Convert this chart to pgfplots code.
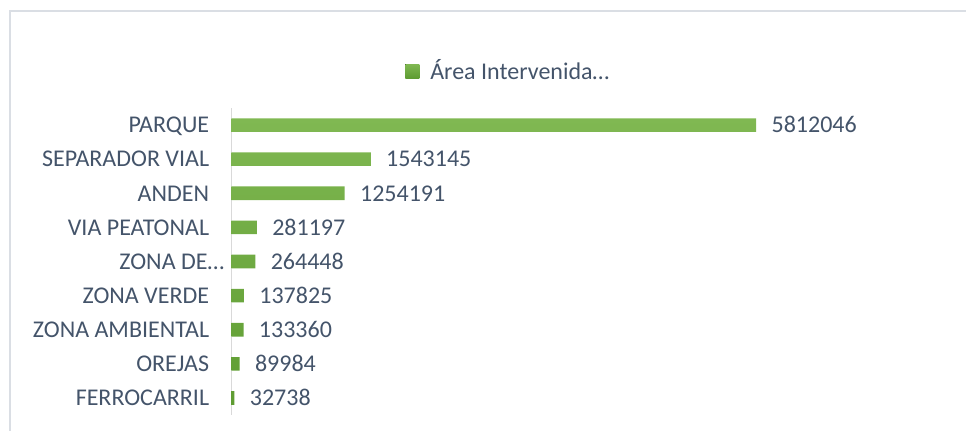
\documentclass[border=0pt]{standalone}
\usepackage{fontspec}
\setmainfont{Carlito}
\usepackage{pgfplots}
\pgfplotsset{compat=1.18}
\definecolor{txt}{RGB}{68,84,106}
\definecolor{bartop}{RGB}{128,184,82}
\definecolor{barbot}{RGB}{94,156,50}
\definecolor{framecol}{RGB}{218,222,228}
\definecolor{axcol}{RGB}{217,217,217}

\begin{document}
\begin{tikzpicture}
\useasboundingbox (0,0) rectangle (483pt,215pt);
\clip (0,0) rectangle (483pt,215pt);
\draw[framecol, line width=0.7pt] (5pt,-10pt) -- (5pt,209.5pt) -- (500pt,209.5pt);
\begin{axis}[
  at={(115.75pt,7.5pt)}, anchor=south west,
  scale only axis, width=316pt, height=153.5pt,
  xbar, bar width=6.8pt,
  xmin=0, xmax=7000000,
  ymin=-0.5, ymax=8.5, y dir=reverse,
  axis x line=none,
  axis y line*=left,
  y axis line style={-, draw=axcol, line width=0.6pt},
  major tick length=0pt,
  ytick={0,...,8},
  yticklabels={PARQUE, SEPARADOR VIAL, ANDEN, VIA PEATONAL,
    ZONA DE…\hspace*{-7.5pt}, ZONA VERDE, ZONA AMBIENTAL, OREJAS, FERROCARRIL},
  yticklabel style={anchor=base east, inner sep=0pt, xshift=-11pt, yshift=-3.9pt,
    font=\fontsize{12}{14}\selectfont, text=txt},
  point meta=explicit symbolic,
  nodes near coords,
  every node near coord/.append style={anchor=base west, inner sep=0pt,
    xshift=7.5pt, yshift=-3.9pt, font=\fontsize{12}{14}\selectfont, text=txt},
  legend image code/.code={\fill[#1] (0pt,-3.5pt) rectangle (7pt,3.5pt);},
  legend style={at={(0.2744,1.1205)}, anchor=west, draw=none, fill=none,
    inner sep=0pt, font=\fontsize{12}{14}\selectfont, text=txt,
    nodes={inner sep=0pt},
    /tikz/every odd column/.append style={column sep=5.5pt}},
]
\addplot[draw=none, top color=bartop, bottom color=barbot] coordinates {
  (5812046,0) [5812046]
  (1543145,1) [1543145]
  (1254191,2) [1254191]
  (281197,3) [281197]
  (264448,4) [264448]
  (137825,5) [137825]
  (133360,6) [133360]
  (89984,7) [89984]
  (32738,8) [32738]
};
\addlegendentry{Área Intervenida…}
\end{axis}
\end{tikzpicture}
\end{document}
